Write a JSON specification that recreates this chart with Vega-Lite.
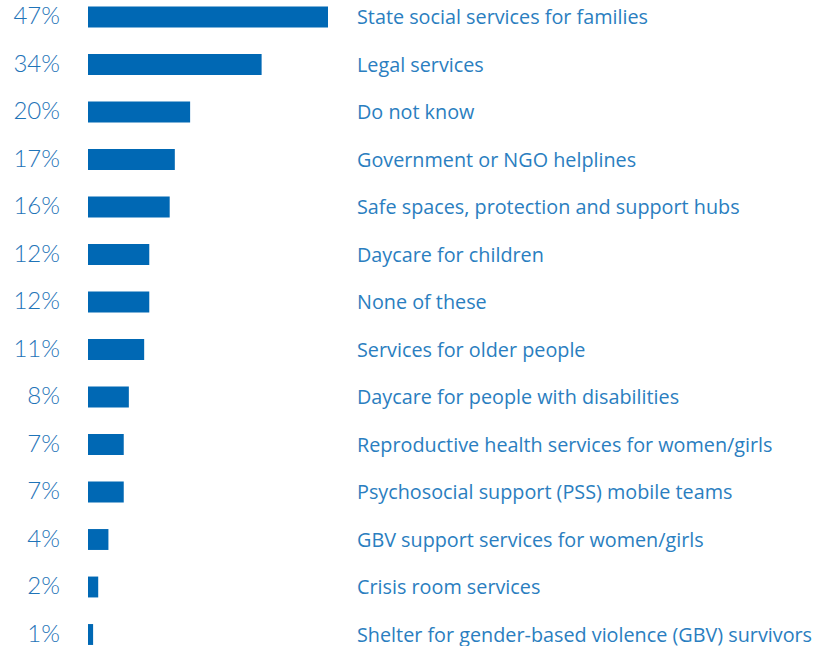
{
  "$schema": "https://vega.github.io/schema/vega-lite/v6.json",
  "autosize": "none",
  "padding": 0,
  "width": 819,
  "height": 646,
  "background": "white",
  "config": {"view": {"stroke": null}},
  "data": {"values": [
    {"label": "State social services for families", "value": 47, "pct": "47%"},
    {"label": "Legal services", "value": 34, "pct": "34%"},
    {"label": "Do not know", "value": 20, "pct": "20%"},
    {"label": "Government or NGO helplines", "value": 17, "pct": "17%"},
    {"label": "Safe spaces, protection and support hubs", "value": 16, "pct": "16%"},
    {"label": "Daycare for children", "value": 12, "pct": "12%"},
    {"label": "None of these", "value": 12, "pct": "12%"},
    {"label": "Services for older people", "value": 11, "pct": "11%"},
    {"label": "Daycare for people with disabilities", "value": 8, "pct": "8%"},
    {"label": "Reproductive health services for women/girls", "value": 7, "pct": "7%"},
    {"label": "Psychosocial support (PSS) mobile teams", "value": 7, "pct": "7%"},
    {"label": "GBV support services for women/girls", "value": 4, "pct": "4%"},
    {"label": "Crisis room services", "value": 2, "pct": "2%"},
    {"label": "Shelter for gender-based violence (GBV) survivors", "value": 1, "pct": "1%"}
  ]},
  "encoding": {
    "y": {"field": "label", "type": "nominal", "sort": null,
      "scale": {"range": [-6.75, 658.25], "paddingInner": 0.56, "paddingOuter": 0.28},
      "axis": null}
  },
  "layer": [
    {
      "mark": {"type": "bar", "color": "#0068b4"},
      "encoding": {
        "x": {"field": "value", "type": "quantitative",
          "scale": {"domain": [0, 47], "range": [88, 328], "nice": false, "zero": true},
          "axis": null}
      }
    },
    {
      "mark": {"type": "text", "align": "right", "baseline": "middle", "dx": -28, "dy": 0, "font": "Lato", "fontWeight": 300, "fontSize": 24, "color": "#1f74b8"},
      "encoding": {
        "x": {"datum": 0, "type": "quantitative"},
        "text": {"field": "pct", "type": "nominal"}
      }
    },
    {
      "mark": {"type": "text", "align": "left", "baseline": "middle", "dx": 269, "dy": 1, "font": "Open Sans", "fontSize": 19.8, "color": "#2a7ec0"},
      "encoding": {
        "x": {"datum": 0, "type": "quantitative"},
        "text": {"field": "label", "type": "nominal"}
      }
    }
  ]
}
